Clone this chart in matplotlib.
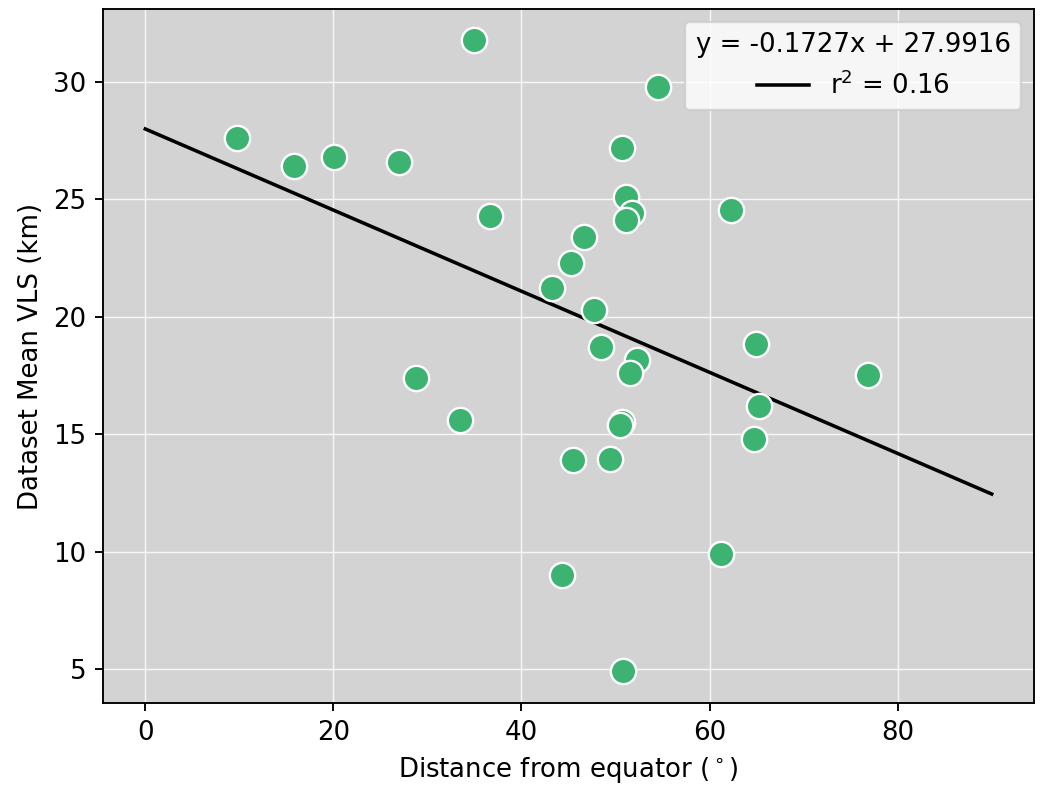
#!/usr/bin/env python3
"""Mean VLS vs distance from the equator, with a linear fit."""

import matplotlib
matplotlib.use("Agg")
import matplotlib.pyplot as plt
import numpy as np

DPI = 170

# distance from equator (deg) and dataset mean VLS (km)
distance = [34.9, 54.5, 9.7, 15.8, 20.1, 27.0, 50.7, 51.1, 51.7, 51.1,
            36.6, 62.3, 46.6, 45.3, 43.2, 47.7, 48.5, 52.3, 51.5, 64.9,
            76.9, 28.8, 65.3, 33.5, 50.7, 50.5, 64.7, 45.5, 49.4, 61.2,
            44.3, 50.8]
mean_vls = [31.8, 29.8, 27.6, 26.4, 26.8, 26.6, 27.2, 25.1, 24.4, 24.1,
            24.3, 24.55, 23.4, 22.3, 21.2, 20.3, 18.7, 18.15, 17.6, 18.85,
            17.5, 17.4, 16.2, 15.6, 15.5, 15.4, 14.8, 13.9, 13.95, 9.9,
            9.0, 4.9]

slope = -0.1727
intercept = 27.9916
r_squared = 0.16
fit_x = [0, 90]


def main() -> None:
    plt.rcParams.update({"font.size": 11})
    fig = plt.figure(figsize=(1040 / DPI, 798 / DPI), dpi=DPI)
    ax = fig.add_axes([103 / 1040, 95 / 798, 931 / 1040, 694 / 798])
    ax.set_facecolor("lightgray")
    ax.grid(color="white", linewidth=0.6, alpha=0.85, zorder=0)
    ax.set_axisbelow(True)

    ax.scatter(distance, mean_vls, s=115, color="mediumseagreen",
               edgecolor="white", linewidth=1.0, zorder=3)

    line_x = np.array(fit_x, dtype=float)
    ax.plot(line_x, slope * line_x + intercept, color="black", linewidth=1.5,
            zorder=2, label=f"r$^2$ = {r_squared:.2f}")

    ax.set_xlim(-4.5, 94.5)
    ax.set_ylim(3.55, 33.1)
    ax.set_xticks([0, 20, 40, 60, 80])
    ax.set_yticks([5, 10, 15, 20, 25, 30])
    ax.set_xlabel("Distance from equator ($^\\circ$)")
    ax.set_ylabel("Dataset Mean VLS (km)")

    ax.legend(title=f"y = {slope}x + {intercept}", loc="upper right",
              framealpha=0.8, title_fontsize=11)

    fig.savefig("out.png", dpi=DPI)
    plt.close(fig)


if __name__ == "__main__":
    main()
